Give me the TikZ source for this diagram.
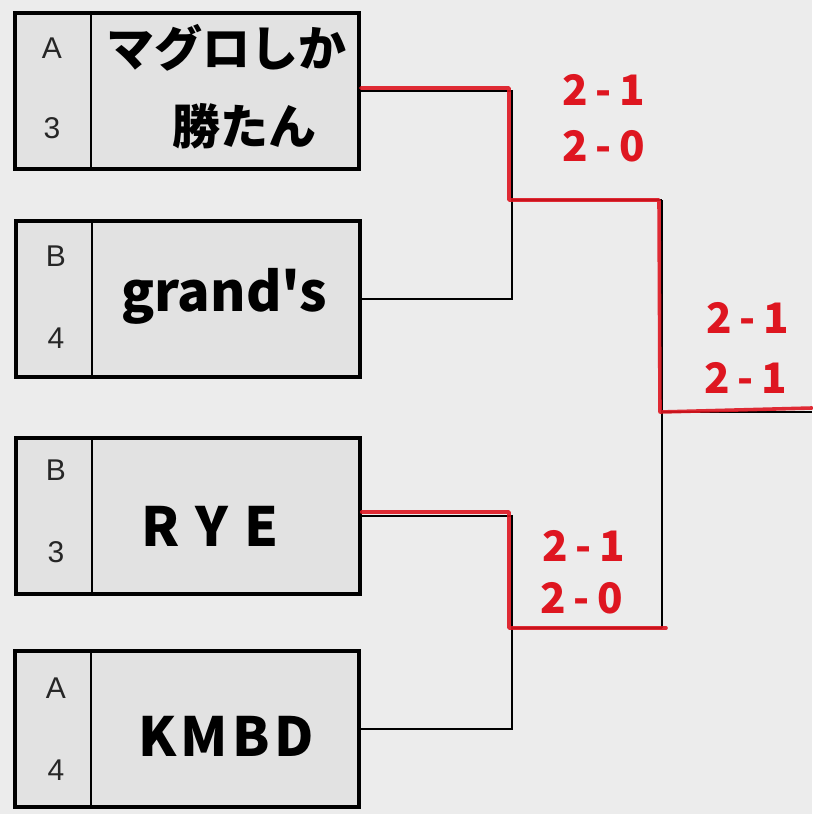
\documentclass[tikz,border=0pt]{standalone}
\usepackage{fontspec}
\setmainfont{Noto Sans CJK JP}
\newfontfamily\cjk{Noto Sans CJK JP}
\newfontfamily\seedfont{Liberation Sans}
\definecolor{paper}{RGB}{236,236,236}
\definecolor{boxfill}{RGB}{226,226,226}
\definecolor{pen}{RGB}{222,22,32}
\tikzset{
  teambox/.style={draw=black, line width=3.5pt, fill=boxfill, minimum width=344pt, minimum height=156pt, inner sep=0pt},
  seed/.style={font=\seedfont\fontsize{30}{32}\selectfont, text=black!85},
  teamname/.style={font=\cjk\bfseries\fontsize{48}{52}\selectfont, text=black},
  wire/.style={draw=black, line width=1.6pt},
  winwire/.style={draw=pen, line width=3.6pt, line join=round, line cap=round, opacity=0.9},
  score/.style={font=\fontsize{42}{44}\selectfont\bfseries\addfontfeature{LetterSpace=18}, text=pen}
}
\begin{document}
\begin{tikzpicture}[x=1pt,y=-1pt]
\useasboundingbox (0,0) rectangle (812,814);
\fill[paper] (0,0) rectangle (812,814);

% team boxes
\node[teambox] (b1) at (187,91) {};
\node[teambox] (b2) at (188,299) {};
\node[teambox] (b3) at (188,516) {};
\node[teambox] (b4) at (187,729) {};
\foreach \b in {b1,b2,b3,b4}{
  \draw[line width=2pt] ([xshift=78pt]\b.north west) -- ([xshift=78pt]\b.south west);
}

% seeds
\node[seed] (s1a) at (52,48) {A};
\node[seed] (s1b) at (52,128) {3};
\node[seed] (s2a) at (56,256) {B};
\node[seed] (s2b) at (56,338) {4};
\node[seed] (s3a) at (56,470) {B};
\node[seed] (s3b) at (56,552) {3};
\node[seed] (s4a) at (56,688) {A};
\node[seed] (s4b) at (56,770) {4};

% team names
\node[teamname] (n1a) at (226,48) {マグロしか};
\node[teamname] (n1b) at (244,126) {勝たん};
\node[teamname, font=\cjk\bfseries\fontsize{54}{58}\selectfont] (n2) at (224,296) {grand's};
\node[teamname, font=\cjk\bfseries\fontsize{54}{58}\selectfont\addfontfeature{LetterSpace=30}] (n3) at (210,526) {RYE};
\node[teamname, font=\cjk\bfseries\fontsize{54}{58}\selectfont\addfontfeature{LetterSpace=8}] (n4) at (226,736) {KMBD};

% junctions
\coordinate (m1) at (512,200);
\coordinate (m2) at (512,628);
\coordinate (f1) at (662,200);
\coordinate (f2) at (662,628);
\coordinate (fc) at (662,412);
\coordinate (fe) at (812,412);

% bracket wires
\draw[wire] (b1.east) -| (m1);
\draw[wire] (b2.east) -| (m1);
\draw[wire] (m1) -- (f1);
\draw[wire] (b3.east) -| (m2);
\draw[wire] (b4.east) -| (m2);
\draw[wire] (m2) -- (f2);
\draw[wire] (f1) -- (f2);
\draw[wire] (fc) -- (fe);

% winner paths
\draw[winwire] ([yshift=3pt]b1.east) -| ([xshift=-3pt]m1) -- ([xshift=-3pt]f1) -- ([xshift=-2pt]fc) -- ([yshift=4pt]fe);
\draw[winwire] ([yshift=4pt]b3.east) -| ([xshift=-3pt]m2) -- ([xshift=4pt]f2);

% scores
\node[score] (sc1a) at (604,90) {2-1};
\node[score] (sc1b) at (604,146) {2-0};
\node[score] (sc2a) at (748,318) {2-1};
\node[score] (sc2b) at (746,378) {2-1};
\node[score] (sc3a) at (584,546) {2-1};
\node[score] (sc3b) at (582,598) {2-0};
\end{tikzpicture}
\end{document}
